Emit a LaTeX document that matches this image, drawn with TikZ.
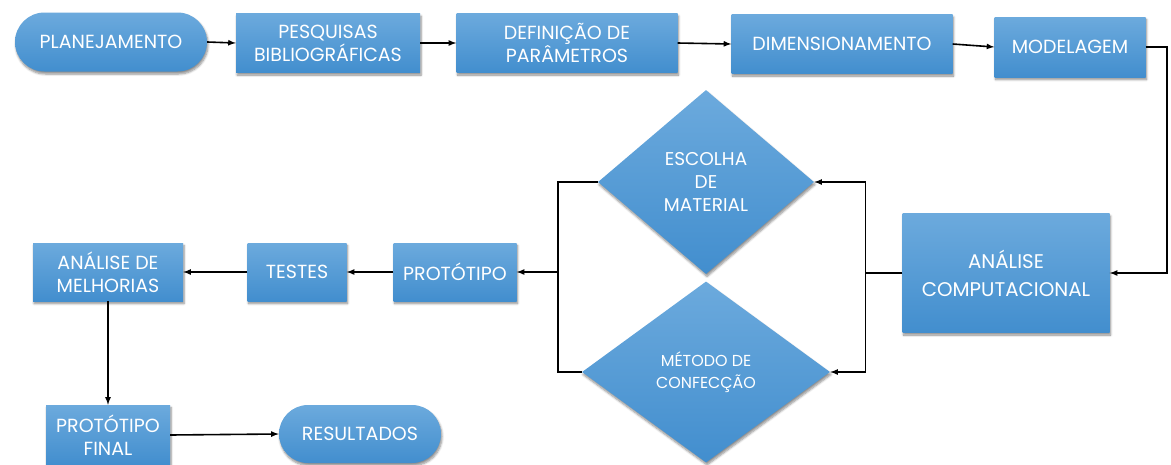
\documentclass[tikz,border=0pt]{standalone}
\usepackage{fontspec}
\setmainfont{Poppins}
\definecolor{boxtop}{RGB}{108,170,221}
\definecolor{boxbottom}{RGB}{66,142,206}
\usetikzlibrary{shapes,arrows,positioning,shadows.blur}

\begin{document}
\begin{tikzpicture}[x=1pt,y=-1pt,
    stepbox/.style={rectangle, top color=boxtop, bottom color=boxbottom, draw=none,
        text=white, align=center, inner sep=2pt, minimum height=59pt,
        font=\fontsize{19}{23}\selectfont,
        blur shadow={shadow xshift=1pt, shadow yshift=-2.5pt, shadow blur steps=6, shadow opacity=45}},
    termbox/.style={stepbox, rounded rectangle},
    decbox/.style={stepbox, diamond, inner sep=0pt},
    link/.style={draw=black, line width=1.6pt, -latex}]
    \useasboundingbox (0,0) rectangle (1171,464);

    % linha de cima
    \node[termbox, minimum width=196pt] (plan) at (111,42) {PLANEJAMENTO};
    \node[stepbox, minimum width=184pt] (pesq) at (328,43) {PESQUISAS\\BIBLIOGRÁFICAS};
    \node[stepbox, minimum width=221pt] (param) at (567,43) {DEFINIÇÃO DE\\PARÂMETROS};
    \node[stepbox, minimum width=221pt] (dimens) at (842,44) {DIMENSIONAMENTO};
    \node[stepbox, minimum width=151pt, minimum height=60pt] (model) at (1070,47) {MODELAGEM};

    % analise e decisoes
    \node[stepbox, minimum width=207pt, minimum height=119pt,
        font=\fontsize{19.8}{28}\selectfont] (comput) at (1006,273) {ANÁLISE\\COMPUTACIONAL};
    \node[decbox, minimum width=216pt, minimum height=184pt,
        font=\fontsize{18.5}{23}\selectfont] (material) at (706,182) {ESCOLHA\\DE\\MATERIAL};
    \node[decbox, minimum width=248pt, minimum height=181pt,
        font=\fontsize{15.9}{22}\selectfont] (metodo) at (706,372) {MÉTODO DE\\CONFECÇÃO};

    % linha do meio
    \node[stepbox, minimum width=123pt, minimum height=58pt] (prototipo) at (455,272) {PROTÓTIPO};
    \node[stepbox, minimum width=99pt, minimum height=58pt] (testes) at (297,272) {TESTES};
    \node[stepbox, minimum width=150pt, minimum height=58pt] (melhorias) at (108,272) {ANÁLISE DE\\MELHORIAS};

    % final
    \node[stepbox, minimum width=124pt, minimum height=60pt] (final) at (108,435) {PROTÓTIPO\\FINAL};
    \node[termbox, minimum width=166pt, minimum height=58pt] (result) at (360,434) {RESULTADOS};

    \draw[link] (plan.east) -- (pesq.west);
    \draw[link] (pesq.east) -- (param.west);
    \draw[link] (param.east) -- (dimens.west);
    \draw[link] (dimens.east) -- (model.west);
    \draw[link] (model.east) -- ++(21,0) |- (comput.east);

    \draw[line width=1.6pt] (comput.west) -- ++(-37,0) coordinate (rjoin);
    \draw[link] (rjoin) |- (material.east);
    \draw[link] (rjoin) |- (metodo.east);

    \draw[line width=1.6pt] (material.west) -- ++(-40,0) coordinate (ljoin) |- (metodo.west);
    \coordinate (lmid) at (ljoin |- prototipo.east);
    \draw[link] (lmid) -- (prototipo.east);

    \draw[link] (prototipo.west) -- (testes.east);
    \draw[link] (testes.west) -- (melhorias.east);
    \draw[link] (melhorias.south) -- (final.north);
    \draw[link] (final.east) -- (result.west);
\end{tikzpicture}
\end{document}
